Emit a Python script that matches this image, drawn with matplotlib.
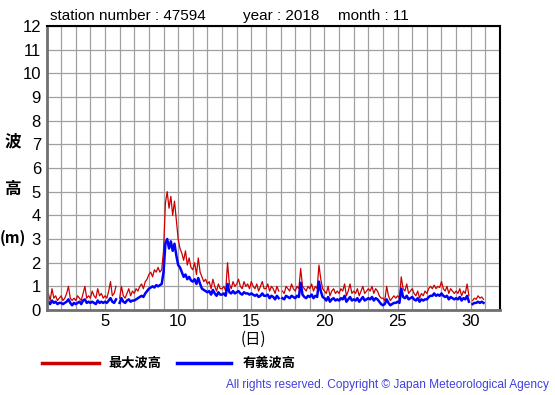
import numpy as np
import matplotlib
matplotlib.use("Agg")
import matplotlib.pyplot as plt

plt.rcParams['font.family'] = ['Liberation Sans', 'DejaVu Sans']
JP = ['Noto Sans CJK JP', 'DejaVu Sans']

station = "47594"
year = "2018"
month = "11"
n = np.nan

# 3-hourly max wave height (m), days 1..30
max_wave = [
    0.5,0.7,0.4,0.9,0.5,0.6,0.4,0.5,
    0.6,0.4,0.5,0.7,1.0,0.5,0.4,0.5,
    0.4,0.6,0.5,0.4,0.7,1.0,0.5,0.6,
    0.5,0.8,0.6,0.5,0.9,0.6,0.7,0.5,
    0.6,0.5,0.8,1.2,0.6,0.7,1.0,n,
    0.5,1.0,0.6,0.5,0.7,0.9,0.6,0.8,
    0.7,0.9,0.8,1.0,1.1,0.9,1.2,1.3,
    1.5,1.6,1.4,1.7,1.6,1.8,1.6,1.7,
    2.5,4.5,5.0,4.3,4.8,4.0,4.6,3.8,
    3.0,2.6,2.4,2.1,2.5,1.9,2.2,1.8,
    1.7,2.0,1.5,2.2,1.6,1.4,1.2,1.3,
    1.1,1.2,0.9,1.3,1.0,0.8,1.1,0.9,
    0.9,1.0,0.8,2.0,1.1,0.9,1.2,1.0,
    1.1,1.3,1.0,0.9,1.2,1.0,1.1,0.9,
    1.2,1.0,0.9,1.1,0.8,1.0,1.2,0.9,
    0.9,1.1,0.8,1.0,0.9,0.7,1.0,0.8,
    n,0.8,0.7,1.0,0.9,0.8,1.1,0.9,
    0.8,1.0,0.9,1.75,1.0,0.9,0.8,1.0,
    0.9,1.1,0.8,1.0,0.9,1.9,1.3,0.9,
    0.8,0.7,1.0,0.6,0.8,0.9,0.7,0.8,
    0.7,0.9,0.8,1.1,0.6,0.8,1.1,0.7,
    0.8,0.7,0.9,0.6,0.8,1.0,0.7,0.8,
    0.9,0.8,1.0,0.7,0.9,0.8,0.6,0.5,
    0.5,0.4,1.0,0.6,0.4,0.5,0.6,0.5,
    0.6,0.5,1.4,0.9,0.8,1.1,0.7,0.8,
    0.9,0.7,0.6,0.8,0.5,0.7,0.6,0.8,
    0.7,0.9,1.0,0.9,1.05,0.9,1.0,0.95,
    1.2,0.9,0.8,1.0,0.7,0.9,0.8,0.7,
    0.8,0.7,0.9,0.6,0.8,0.7,1.1,0.6,
    n,0.4,0.5,0.45,0.6,0.5,0.55,0.45,
]

# 3-hourly significant wave height (m), days 1..30
sig_wave = [
    0.3,0.35,0.25,0.4,0.3,0.35,0.25,0.3,
    0.3,0.25,0.3,0.35,0.45,0.3,0.2,0.3,
    0.25,0.3,0.35,0.25,0.4,0.45,0.3,0.35,
    0.3,0.35,0.3,0.25,0.4,0.3,0.35,0.3,
    0.35,0.3,0.4,0.5,0.35,0.3,0.45,n,
    0.3,0.5,0.35,0.3,0.4,0.45,0.35,0.4,
    0.4,0.45,0.5,0.55,0.6,0.55,0.7,0.8,
    0.9,0.95,1.0,0.95,1.05,1.0,1.05,1.1,
    1.6,2.8,3.0,2.6,2.9,2.5,2.8,2.3,
    1.9,1.8,1.6,1.4,1.5,1.3,1.4,1.25,
    1.2,1.3,1.1,1.35,1.1,0.9,0.85,0.8,
    0.75,0.8,0.65,0.85,0.7,0.6,0.75,0.65,
    0.65,0.7,0.6,1.1,0.75,0.7,0.8,0.7,
    0.75,0.8,0.7,0.65,0.75,0.7,0.7,0.65,
    0.7,0.65,0.6,0.65,0.55,0.6,0.7,0.6,
    0.6,0.65,0.5,0.6,0.55,0.45,0.6,0.5,
    n,0.5,0.45,0.6,0.55,0.5,0.6,0.55,
    0.5,0.6,0.55,1.15,0.65,0.55,0.5,0.6,
    0.55,0.65,0.5,0.6,0.55,1.2,0.8,0.55,
    0.5,0.4,0.55,0.35,0.45,0.5,0.4,0.45,
    0.4,0.5,0.45,0.6,0.35,0.45,0.55,0.4,
    0.45,0.4,0.5,0.35,0.45,0.55,0.4,0.45,
    0.5,0.45,0.55,0.4,0.5,0.45,0.35,0.25,
    0.2,0.25,0.45,0.3,0.2,0.25,0.3,0.3,
    0.35,0.3,0.9,0.55,0.5,0.6,0.45,0.5,
    0.55,0.45,0.4,0.5,0.35,0.45,0.4,0.45,
    0.45,0.55,0.6,0.6,0.7,0.6,0.65,0.6,
    0.7,0.6,0.55,0.6,0.45,0.55,0.5,0.45,
    0.5,0.45,0.55,0.4,0.5,0.45,0.6,0.35,
    n,0.25,0.3,0.3,0.35,0.3,0.35,0.3,
]

x_ticks = [5, 10, 15, 20, 25, 30]
y_ticks = list(range(0, 13))
legend_labels = ["最大波高", "有義波高"]

t = 1 + np.arange(len(max_wave)) * 3 / 24.0

fig = plt.figure(figsize=(5.55, 3.95), dpi=100)
ax = fig.add_axes([46.5/555, 1-310/395, (500-46.5)/555, (310-26)/395])

ax.plot(t, max_wave, color='#cc0000', lw=0.9)
ax.plot(t, sig_wave, color='#0000ff', lw=1.8)

ax.set_xlim(1, 32)
ax.set_ylim(0, 12)
ax.set_xticks(x_ticks)
ax.set_xticks(np.arange(1, 33), minor=True)
ax.set_yticks(y_ticks)
ax.grid(True, which='both', color='#a0a0a0', lw=0.9)
ax.set_axisbelow(True)
ax.tick_params(which='both', length=0, labelsize=12)
ax.tick_params(axis='x', pad=3)
ax.tick_params(axis='y', pad=4)

for s in ['left', 'bottom']:
    ax.spines[s].set_color('#707070')
    ax.spines[s].set_linewidth(2)
for s in ['top', 'right']:
    ax.spines[s].set_color('black')
    ax.spines[s].set_linewidth(1.5)

fig.text(50/555, 1-16/395, f"station number : {station}", fontsize=11, va='center')
fig.text(243/555, 1-16/395, f"year : {year}", fontsize=11, va='center')
fig.text(338/555, 1-16/395, f"month : {month}", fontsize=11, va='center')

fig.text(13/555, 1-141/395, "波", family=JP, fontsize=12, fontweight='bold', ha='center', va='center')
fig.text(13/555, 1-189/395, "高", family=JP, fontsize=12, fontweight='bold', ha='center', va='center')
fig.text(13/555, 1-238/395, "(m)", family=JP, fontsize=11, fontweight='bold', ha='center', va='center')
fig.text(253/555, 1-339/395, "(日)", family=JP, fontsize=11, ha='center', va='center')

fig.add_artist(plt.Line2D([42/555, 99/555], [1-363/395]*2, color='#cc0000', lw=2.5))
fig.text(108/555, 1-363/395, legend_labels[0], family=JP, fontsize=9.5, fontweight='bold', va='center')
fig.add_artist(plt.Line2D([177/555, 231/555], [1-363/395]*2, color='#0000ff', lw=2.5))
fig.text(243/555, 1-363/395, legend_labels[1], family=JP, fontsize=9.5, fontweight='bold', va='center')

fig.text(549/555, 1-385/395, "All rights reserved. Copyright \u00a9 Japan Meteorological Agency",
         fontsize=8.6, color='#4040dd', ha='right', va='center')

fig.savefig("out.png", dpi=100)
